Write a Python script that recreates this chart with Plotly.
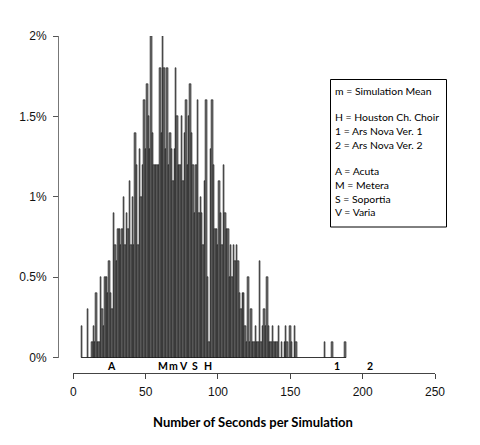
import plotly.graph_objects as go

# seconds per simulation (1-second bins) and share of simulations (%)
seconds = list(range(6, 189))
pct = [
    0.2, 0, 0, 0, 0.3, 0, 0, 0.1, 0.2, 0.1,          # 6-15
    0.4, 0.1, 0.1, 0.5, 0.3, 0.2, 0.5, 0.5, 0.4, 0.6,  # 16-25
    0.4, 0.3, 0.9, 0.7, 0.6, 0.8, 0.8, 0.7, 0.8, 1.0,  # 26-35
    0.7, 0.9, 0.8, 1.1, 0.7, 1.0, 0.7, 1.4, 1.2, 0.7,  # 36-45
    1.3, 1.0, 1.2, 1.6, 1.3, 1.7, 1.5, 1.3, 2.0, 1.4,  # 46-55
    1.2, 1.2, 1.2, 1.2, 1.8, 1.4, 2.0, 1.8, 1.3, 1.8,  # 56-65
    1.2, 1.4, 1.3, 1.1, 1.3, 1.8, 1.5, 1.2, 1.2, 1.5,  # 66-75
    1.1, 1.4, 1.6, 1.2, 1.5, 1.7, 1.4, 1.2, 0.9, 1.2,  # 76-85
    1.6, 0.9, 1.0, 0.9, 0.7, 1.1, 1.6, 0.5, 0.1, 1.3,  # 86-95
    1.6, 1.2, 0.8, 0.8, 0.7, 1.1, 0.9, 0.7, 1.2, 0.9,  # 96-105
    0.8, 0.8, 0.5, 0.7, 0.5, 0.7, 0.6, 0.7, 0.6, 0.4,  # 106-115
    0.3, 0.4, 0.4, 0.2, 0.1, 0.5, 0.1, 0.3, 0.1, 0.1,  # 116-125
    0.2, 0.1, 0.1, 0.6, 0.1, 0.2, 0.3, 0.2, 0.5, 0.2,  # 126-135
    0.1, 0.1, 0.2, 0.1, 0.1, 0.1, 0.2, 0, 0.1, 0,      # 136-145
    0.1, 0.2, 0.1, 0, 0.2, 0.1, 0, 0.2, 0.1, 0,        # 146-155
    0, 0, 0, 0, 0, 0, 0, 0, 0, 0,                      # 156-165
    0, 0, 0, 0, 0, 0, 0, 0, 0.1, 0,                    # 166-175
    0, 0, 0, 0.1, 0, 0, 0, 0, 0, 0,                    # 176-185
    0, 0, 0.1,                                         # 186-188
]

# choir / simulation markers under the bars
mark_secs = [26.5, 62.2, 69.5, 76.5, 84, 92.8, 182.3, 205]
mark_labels = ["A", "M", "m", "V", "S", "H", "1", "2"]

# legend text, blank strings are spacer rows
legend_lines = ["m = Simulation Mean", "",
                "H = Houston Ch. Choir", "1 = Ars Nova Ver. 1", "2 = Ars Nova Ver. 2", "",
                "A = Acuta", "M = Metera", "S = Soportia", "V = Varia"]

x_ticks = [0, 50, 100, 150, 200, 250]
y_ticks = [0, 0.5, 1, 1.5, 2]
y_tick_labels = ["0%", "0.5%", "1%", "1.5%", "2%"]

# the page body has an 8px margin, so the figure is drawn smaller and shifted
OFF = 8
W, H = 480 - OFF, 445 - OFF
# paper box in page pixels
L, R, T, B = 58, 435, 36, 373


def fx(p):
    return (p - L) / (R - L)


def fy(p):
    return (B - p) / (B - T)


fig = go.Figure()
fig.add_trace(go.Bar(x=seconds, y=pct, width=1,
                     marker=dict(color='#707070', line=dict(color='#111111', width=0.5)),
                     hoverinfo='x+y'))

# baseline under the histogram
fig.add_shape(type='line', xref='x', yref='y', x0=seconds[0] - 0.5, x1=seconds[-1] + 0.5,
              y0=0, y1=0, line=dict(color='black', width=1))

annotations = []
for s, lab in zip(mark_secs, mark_labels):
    annotations.append(dict(x=s, y=fy(366), xref='x', yref='paper', text='<b>%s</b>' % lab,
                            xanchor='center', yanchor='middle', showarrow=False,
                            font=dict(family='Lato', size=10.5, color='black')))

# legend box
fig.add_shape(type='rect', xref='paper', yref='paper', x0=fx(330.5), x1=fx(446.5),
              y0=fy(227), y1=fy(79.5), line=dict(color='black', width=1))
for i, line in enumerate(legend_lines):
    if not line:
        continue
    annotations.append(dict(x=fx(332.5), y=fy(90.5 + 13.5 * i), xref='paper', yref='paper',
                            text=line, xanchor='left', yanchor='middle', showarrow=False,
                            font=dict(family='Lato', size=10.4, color='black')))

annotations.append(dict(x=fx(253), y=fy(422.5), xref='paper', yref='paper',
                        text='<b>Number of Seconds per Simulation</b>', showarrow=False,
                        xanchor='center', yanchor='middle',
                        font=dict(family='Lato', size=13, color='black')))

fig.update_layout(
    width=W, height=H,
    margin=dict(l=L - OFF, r=480 - R, t=T - OFF, b=445 - B),
    paper_bgcolor='white', plot_bgcolor='white',
    bargap=0, showlegend=False,
    font=dict(family='Liberation Sans', size=12, color='#111111'),
    xaxis=dict(domain=[fx(73.3), 1], range=[0, 250], anchor='free', position=0,
               tickvals=x_ticks, ticks='outside', ticklen=5, tickcolor='#444444',
               ticklabelstandoff=3,
               showline=True, linecolor='#444444', showgrid=False, zeroline=False),
    yaxis=dict(domain=[fy(357.7), 1], range=[0, 2], anchor='free', position=0,
               tickvals=y_ticks, ticktext=y_tick_labels, ticks='outside', ticklen=5,
               tickcolor='#555555', ticklabelstandoff=4,
               showline=True, linecolor='#777777',
               showgrid=False, zeroline=False),
    annotations=annotations,
)

fig.write_html("out.html")
